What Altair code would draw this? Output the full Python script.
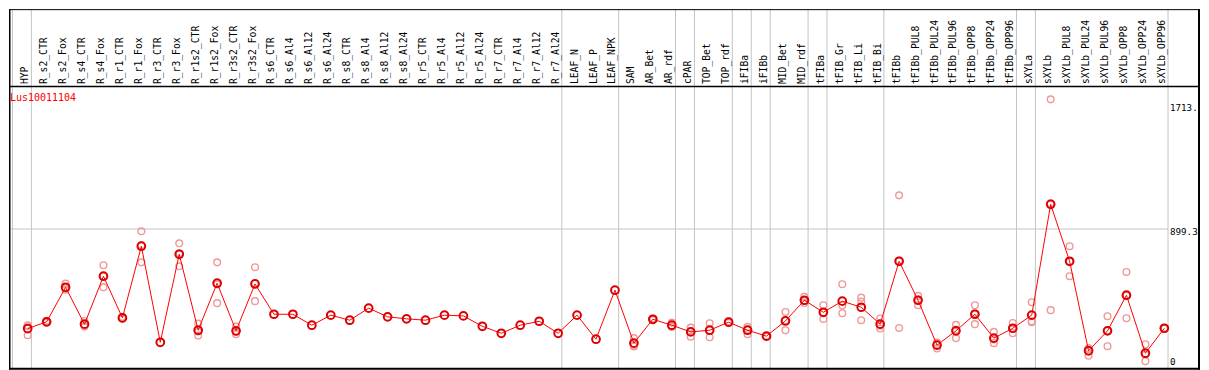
import altair as alt
import pandas as pd
import numpy as np

categories = [
    "HYP", "R_s2_CTR", "R_s2_Fox", "R_s4_CTR", "R_s4_Fox", "R_r1_CTR", "R_r1_Fox",
    "R_r3_CTR", "R_r3_Fox", "R_r1s2_CTR", "R_r1s2_Fox", "R_r3s2_CTR", "R_r3s2_Fox",
    "R_s6_CTR", "R_s6_Al4", "R_s6_Al12", "R_s6_Al24", "R_s8_CTR", "R_s8_Al4",
    "R_s8_Al12", "R_s8_Al24", "R_r5_CTR", "R_r5_Al4", "R_r5_Al12", "R_r5_Al24",
    "R_r7_CTR", "R_r7_Al4", "R_r7_Al12", "R_r7_Al24", "LEAF_N", "LEAF_P", "LEAF_NPK",
    "SAM", "AR_Bet", "AR_rdf", "cPAR", "TOP_Bet", "TOP_rdf", "iFIBa", "iFIBb",
    "MID_Bet", "MID_rdf", "tFIBa", "tFIB_Gr", "tFIB_Li", "tFIB_Bi", "tFIBb",
    "tFIBb_PUL8", "tFIBb_PUL24", "tFIBb_PUL96", "tFIBb_OPP8", "tFIBb_OPP24",
    "tFIBb_OPP96", "sXYLa", "sXYLb", "sXYLb_PUL8", "sXYLb_PUL24", "sXYLb_PUL96",
    "sXYLb_OPP8", "sXYLb_OPP24", "sXYLb_OPP96",
]

means = [
    245, 289, 516, 274, 589, 315, 786, 155, 733, 234, 543, 230, 538,
    339, 339, 267, 333, 300, 379, 322, 309, 300, 333, 328, 260, 214, 267, 293, 214,
    333, 175, 497, 149, 306, 267, 223, 234, 287, 234, 195, 295, 431, 352, 425, 385,
    274, 687, 431, 136, 230, 339, 182, 247, 333, 1061, 687, 99, 230, 464, 83, 247,
]

N = None
rep_a = [267, 296, 540, 295, 661, 322, 884, N, 805, 278, 680, 258, 648,
         N, N, N, N, N, N, N, N, N, N, N, N, N, N, N, N, N, N, N,
         182, 310, 284, 251, 280, 292, 256, 198, 354, 453, 398, 536, 448, 311,
         1120, 460, 153, 269, 398, 223, 282, 418, 1751, 786, 116, 326, 617, 142, 250]
rep_b = [201, 284, 510, 258, 516, 310, 680, N, 654, 199, 412, 208, 425,
         N, N, N, N, N, N, N, N, N, N, N, N, N, N, N, N, N, N, N,
         127, 302, 256, 192, 188, 282, 208, 192, 234, 427, 308, 396, 422, 245,
         249, 398, 114, 182, 274, 149, 215, 293, 366, 589, 66, 129, 313, 31, 244]
rep_c = [262, 289, 500, 268, 589, 314, 792, N, 740, 225, 535, 223, 542,
         N, N, N, N, N, N, N, N, N, N, N, N, N, N, N, N, N, N, N,
         137, 306, 262, 226, 234, 286, 238, 195, 298, 413, 351, 346, 300, 264,
         692, 436, 140, 238, 346, 173, 244, 287, 1068, 687, 114, 234, 462, 76, 247]

# number of consecutive samples in each separated group
group_sizes = [1, 28, 3, 3, 1, 2, 1, 1, 2, 1, 3, 7, 1, 7]

gene_label = "Lus10011104"
y_tick_values = [0, 899.3, 1713]
y_tick_labels = ["0", "899.3", "1713."]

# ---------------- tables ----------------
mean_df = pd.DataFrame({"idx": list(range(len(categories))), "cat": categories, "value": means})
rows = []
for i, reps in enumerate(zip(rep_a, rep_b, rep_c)):
    for r in reps:
        if r is not None:
            rows.append({"idx": i, "value": r})
rep_df = pd.DataFrame(rows)
sep_df = pd.DataFrame({"b": (np.cumsum([0] + group_sizes) - 1 + 0.195).tolist()})
grid_df = pd.DataFrame({"v": [y_tick_values[1]]})
tick_df = pd.DataFrame({"v": y_tick_values, "lab": y_tick_labels})
one = pd.DataFrame({"k": [0]})

# ---------------- layout ----------------
W, H = 1160, 284
HEAD = 77
RIGHT = 1192
FONT = "DejaVu Sans Mono"

x_scale = alt.Scale(domain=[-0.9863, 60.195], nice=False, zero=False)
y_scale = alt.Scale(domain=[-26.26, 1837.99], nice=False, zero=False)

X = lambda f: alt.X(f, scale=x_scale, axis=None)
Y = lambda f: alt.Y(f, scale=y_scale, axis=None)

seps = alt.Chart(sep_df).mark_rule(color="#c4c4c4", strokeWidth=1).encode(
    x=X("b:Q"), y=alt.value(-HEAD), y2=alt.value(H),
)
hgrid = alt.Chart(grid_df).mark_rule(color="#c4c4c4", strokeWidth=1).encode(y=Y("v:Q"))


def hline(yv, sw):
    return alt.Chart(one).mark_rule(color="black", strokeWidth=sw).encode(
        x=alt.value(0), x2=alt.value(RIGHT), y=alt.value(yv))


def vline(xv, sw):
    return alt.Chart(one).mark_rule(color="black", strokeWidth=sw).encode(
        x=alt.value(xv), y=alt.value(-HEAD), y2=alt.value(H))


frame = [hline(-HEAD + 0.5, 1), hline(0.5, 1.5), hline(H - 1, 2),
         vline(0.75, 1.5), vline(RIGHT - 1, 2)]

reps = alt.Chart(rep_df).mark_point(
    shape="circle", filled=False, color="#f09898", strokeWidth=1.4, size=45, opacity=1
).encode(x=X("idx:Q"), y=Y("value:Q"))

line = alt.Chart(mean_df).mark_line(color="#ff0000", strokeWidth=1).encode(
    x=X("idx:Q"), y=Y("value:Q"))

pts = alt.Chart(mean_df).mark_point(
    shape="circle", filled=False, color="#dd0000", strokeWidth=2, size=60, opacity=1
).encode(x=X("idx:Q"), y=Y("value:Q"))

# sample names across the top (rotated)
xlabels = alt.Chart(mean_df).mark_text(
    angle=270, align="left", baseline="middle", font=FONT, fontSize=9.7,
    color="black", dy=-2.5,
).encode(x=X("idx:Q"), y=alt.value(-2), text="cat:N")

# value labels on the right
ylab_style = dict(align="left", font=FONT, fontSize=9.2, color="black")
ylabels_hi = alt.Chart(tick_df).transform_filter("datum.v > 0").mark_text(
    baseline="top", dy=-1, **ylab_style
).encode(y=Y("v:Q"), x=alt.value(W + 2), text="lab:N")
ylabels_lo = alt.Chart(tick_df).transform_filter("datum.v == 0").mark_text(
    baseline="bottom", dy=1, **ylab_style
).encode(y=Y("v:Q"), x=alt.value(W + 2), text="lab:N")

gene = alt.Chart(one).mark_text(
    text=gene_label, color="#ff0000", font=FONT, fontSize=10, align="left", baseline="middle"
).encode(x=alt.value(1), y=alt.value(12))

chart = alt.layer(
    seps, hgrid, *frame, reps, line, pts, xlabels, ylabels_hi, ylabels_lo, gene
).properties(width=W, height=H, padding=0).configure_view(stroke=None)

chart.save("out.html", embed_options={"renderer": "svg", "actions": False})
